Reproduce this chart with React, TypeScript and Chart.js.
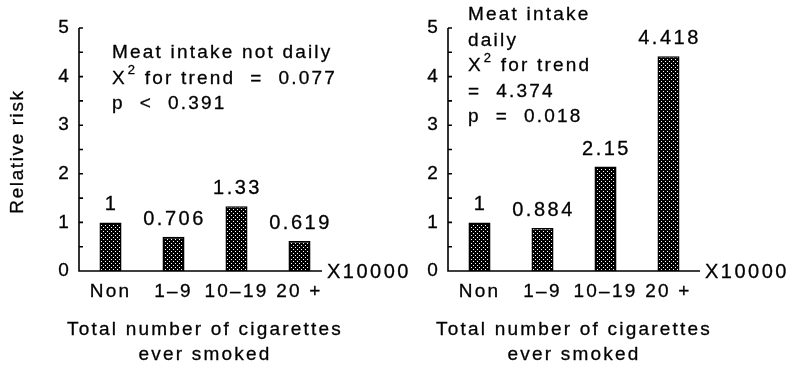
import { useEffect, useRef } from "react";
import { Chart, registerables } from "chart.js";

Chart.register(...registerables);

// Smoking categories and relative risks for the two meat-intake strata
const categories = ["Non", "1–9", "10–19", "20 +"];
const riskNotDaily = [1, 0.706, 1.33, 0.619];
const riskDaily = [1, 0.884, 2.15, 4.418];
const yTicks = [0, 1, 2, 3, 4, 5];

// Panel annotations ("^2" marks a superscript two)
const noteNotDaily = ["Meat intake not daily", "X^2 for trend  =  0.077", "p  <  0.391"];
const noteDaily = ["Meat intake", "daily", "X^2 for trend", "=  4.374", "p  =  0.018"];

const unitLabel = "X10000";
const xTitle = ["Total number of cigarettes", "ever smoked"];
const yTitle = "Relative risk";

const FONT = "'Liberation Sans', Arial, Helvetica, sans-serif";
const SPACING = "2.2px";
const INK = 0.3; // stroke added around glyphs for a slightly heavier, printed look

type PanelSpec = {
  values: number[];
  note: string[];
  noteDx: number;
  noteDy: number;
  axisTrim: number;
  yAxisWidth: number;
  showYTitle: boolean;
  padRight: number;
};

function makeDotPattern(): CanvasPattern | string {
  const tile = document.createElement("canvas");
  tile.width = 4;
  tile.height = 4;
  const t = tile.getContext("2d");
  if (!t) return "#000";
  t.fillStyle = "#000";
  t.fillRect(0, 0, 4, 4);
  t.fillStyle = "#fff";
  t.fillRect(1, 1, 1, 1);
  t.fillRect(3, 3, 1, 1);
  const p = t.createPattern(tile, "repeat");
  return p ?? "#000";
}

function paint(ctx: CanvasRenderingContext2D, text: string, x: number, y: number) {
  ctx.fillText(text, x, y);
  ctx.strokeText(text, x, y);
}

function drawNoteLine(ctx: CanvasRenderingContext2D, text: string, x: number, y: number) {
  const parts = text.split("^2");
  let cx = x;
  parts.forEach((part, i) => {
    if (i > 0) {
      ctx.font = `13px ${FONT}`;
      paint(ctx, "2", cx + 1, y - 8);
      cx += ctx.measureText("2").width + 1;
      ctx.font = `19px ${FONT}`;
    }
    paint(ctx, part, cx, y);
    cx += ctx.measureText(part).width;
  });
}

function buildChart(canvas: HTMLCanvasElement, spec: PanelSpec): Chart {
  const decor = {
    id: "panelDecor",
    beforeDraw(chart: Chart) {
      (chart.ctx as any).letterSpacing = SPACING;
    },
    afterDraw(chart: Chart) {
      const { ctx, chartArea } = chart;
      const ys = chart.scales.y;
      const y0 = ys.getPixelForValue(0);
      const yTop = ys.getPixelForValue(5);
      const xEnd = chartArea.right - spec.axisTrim;
      ctx.save();
      ctx.strokeStyle = "#000";
      ctx.lineWidth = 1.6;
      ctx.beginPath();
      ctx.moveTo(chartArea.left, yTop);
      ctx.lineTo(chartArea.left, y0);
      ctx.lineTo(xEnd, y0);
      // inward tick marks every half unit
      for (let v = 0; v <= 5; v += 0.5) {
        const py = ys.getPixelForValue(v);
        ctx.moveTo(chartArea.left, py);
        ctx.lineTo(chartArea.left + 4, py);
      }
      ctx.stroke();

      ctx.fillStyle = "#000";
      ctx.lineWidth = INK;
      ctx.lineJoin = "round";
      (ctx as any).letterSpacing = "2.5px";
      ctx.font = `20px ${FONT}`;
      ctx.textAlign = "left";
      ctx.textBaseline = "middle";
      paint(ctx, unitLabel, xEnd + 5, y0 + 1);

      // value labels above the bars
      ctx.textAlign = "center";
      ctx.textBaseline = "alphabetic";
      const meta = chart.getDatasetMeta(0);
      meta.data.forEach((bar: any, i: number) => {
        paint(ctx, String(spec.values[i]), bar.x + 1, bar.y - 12);
      });

      // annotation block
      (ctx as any).letterSpacing = SPACING;
      ctx.font = `19px ${FONT}`;
      ctx.textAlign = "left";
      ctx.textBaseline = "middle";
      spec.note.forEach((line, i) => {
        drawNoteLine(ctx, line, chartArea.left + spec.noteDx, chartArea.top + spec.noteDy + i * 25.5);
      });

      // axis titles
      ctx.textAlign = "center";
      const cx = (chartArea.left + chartArea.right) / 2;
      xTitle.forEach((line, i) => {
        paint(ctx, line, cx, 330 + i * 25);
      });
      if (spec.showYTitle) {
        (ctx as any).letterSpacing = "1.6px";
        ctx.translate(18, (chartArea.top + chartArea.bottom) / 2 + 2);
        ctx.rotate(-Math.PI / 2);
        paint(ctx, yTitle, 0, 0);
      }
      ctx.restore();
    },
  };

  return new Chart(canvas, {
    type: "bar",
    data: {
      labels: categories,
      datasets: [
        {
          data: spec.values,
          backgroundColor: makeDotPattern() as any,
          borderColor: "#000",
          borderWidth: 1.5,
          barPercentage: 0.35,
          categoryPercentage: 1,
        },
      ],
    },
    options: {
      animation: false,
      responsive: false,
      layout: { padding: { top: 28, right: spec.padRight, bottom: 0, left: 0 } },
      plugins: { legend: { display: false }, tooltip: { enabled: false } },
      scales: {
        x: {
          grid: { display: false, drawTicks: false },
          border: { display: false },
          ticks: {
            color: "#000",
            font: { family: FONT, size: 19 },
            padding: 9,
            maxRotation: 0,
            minRotation: 0,
            autoSkip: false,
            textStrokeColor: "#000",
            textStrokeWidth: INK,
          },
          afterFit(scale: any) {
            scale.height = 100;
          },
        },
        y: {
          min: 0,
          max: 5,
          grid: { display: false, drawTicks: false },
          border: { display: false },
          afterBuildTicks(scale: any) {
            scale.ticks = yTicks.map((v) => ({ value: v }));
          },
          ticks: {
            color: "#000",
            font: { family: FONT, size: 19 },
            padding: 8,
            textStrokeColor: "#000",
            textStrokeWidth: INK,
          },
          afterFit(scale: any) {
            scale.width = spec.yAxisWidth;
          },
        },
      },
    },
    plugins: [decor],
  });
}

function Panel({ spec, left, width }: { spec: PanelSpec; left: number; width: number }) {
  const ref = useRef<HTMLCanvasElement | null>(null);
  useEffect(() => {
    if (!ref.current) return;
    const chart = buildChart(ref.current, spec);
    return () => chart.destroy();
  }, [spec]);
  return (
    <canvas
      ref={ref}
      width={width}
      height={371}
      style={{ position: "absolute", left, top: 0, width, height: 371 }}
    />
  );
}

const leftSpec: PanelSpec = {
  values: riskNotDaily,
  note: noteNotDaily,
  noteDx: 33,
  noteDy: 25,
  axisTrim: 9,
  yAxisWidth: 79,
  showYTitle: true,
  padRight: 89,
};

const rightSpec: PanelSpec = {
  values: riskDaily,
  note: noteDaily,
  noteDx: 20,
  noteDy: -13,
  axisTrim: 0,
  yAxisWidth: 28,
  showYTitle: false,
  padRight: 96,
};

export default function App() {
  return (
    <div
      style={{
        position: "fixed",
        left: 0,
        top: 0,
        width: 796,
        height: 371,
        background: "#fff",
        overflow: "hidden",
      }}
    >
      <Panel spec={leftSpec} left={0} width={420} />
      <Panel spec={rightSpec} left={420} width={376} />
    </div>
  );
}
